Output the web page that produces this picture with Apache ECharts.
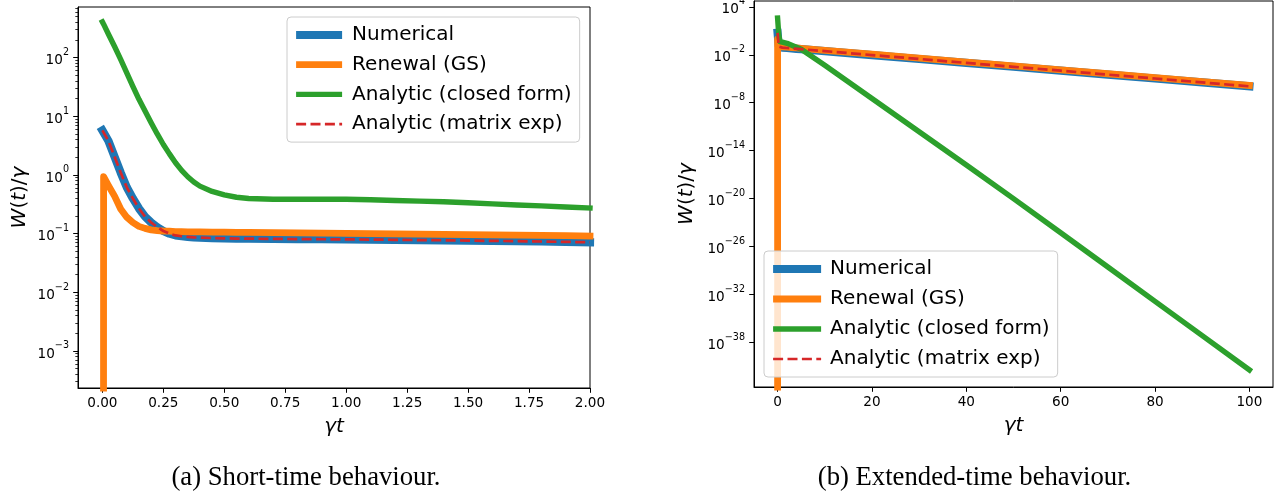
<!DOCTYPE html>
<html><head><meta charset="utf-8">
<script src="https://cdn.jsdelivr.net/npm/echarts@6/dist/echarts.min.js"></script>
<style>html,body{margin:0;padding:0;background:#fff;}#c{width:1287px;height:491px;}</style>
</head><body><div id="c"></div>
<script>
// ---------- data: short-time panel (a) ----------
const tShort = [0, 0.005, 0.025, 0.05, 0.075, 0.1, 0.125, 0.15, 0.175, 0.2, 0.225, 0.25, 0.275, 0.3, 0.325, 0.35, 0.375, 0.4, 0.45, 0.5, 0.55, 0.6, 0.7, 0.8, 0.9, 1.0, 1.1, 1.2, 1.3, 1.4, 1.5, 1.6, 1.7, 1.8, 1.9, 2.0];
const numericalShort = [5.75, 5.37, 3.80, 2.04, 1.10, 0.617, 0.398, 0.269, 0.195, 0.155, 0.129, 0.111, 0.100, 0.0933, 0.0902, 0.0881, 0.0865, 0.0855, 0.0841, 0.0832, 0.0826, 0.0822, 0.0815, 0.0809, 0.0803, 0.0798, 0.0793, 0.0785, 0.0778, 0.0771, 0.0762, 0.0753, 0.0745, 0.0735, 0.0724, 0.0713];
const renewalShort = [1e-60, 0.933, 0.661, 0.437, 0.263, 0.191, 0.155, 0.133, 0.123, 0.116, 0.113, 0.111, 0.110, 0.108, 0.108, 0.1076, 0.1074, 0.1072, 0.1064, 0.106, 0.1054, 0.1050, 0.104, 0.103, 0.102, 0.1012, 0.1002, 0.0993, 0.0984, 0.0975, 0.0964, 0.0955, 0.0944, 0.0933, 0.0923, 0.0912];
const closedShort = [407, 372, 251, 155, 93.3, 55.0, 32.4, 19.5, 12.3, 7.76, 5.01, 3.31, 2.29, 1.62, 1.20, 0.933, 0.759, 0.646, 0.525, 0.457, 0.417, 0.398, 0.386, 0.385, 0.385, 0.385, 0.378, 0.367, 0.359, 0.349, 0.337, 0.322, 0.308, 0.297, 0.285, 0.274];
const matrixShort = [5.75, 5.37, 3.80, 2.04, 1.10, 0.617, 0.398, 0.269, 0.195, 0.155, 0.129, 0.111, 0.100, 0.0933, 0.0902, 0.0881, 0.0865, 0.0855, 0.0841, 0.0832, 0.0826, 0.0822, 0.0815, 0.0809, 0.0803, 0.0798, 0.0793, 0.0785, 0.0778, 0.0771, 0.0762, 0.0753, 0.0745, 0.0735, 0.0724, 0.0713];

// ---------- data: extended-time panel (b) ----------
const tLong = [0, 0.005, 0.25, 0.5, 1, 2, 3, 4, 5, 10, 20, 30, 40, 50, 60, 70, 80, 90, 100];
const numericalLong = [5.75, 5.37, 0.111, 0.0832, 0.0798, 0.0713, 0.0637, 0.0569, 0.0508, 0.0289, 9.35e-3, 3.03e-3, 9.79e-4, 3.17e-4, 1.03e-4, 3.32e-5, 1.07e-5, 3.48e-6, 1.12e-6];
const renewalLong = [1e-60, 0.933, 0.111, 0.106, 0.1012, 0.0912, 0.0815, 0.0728, 0.0650, 0.0370, 0.01197, 3.87e-3, 1.25e-3, 4.06e-4, 1.31e-4, 4.25e-5, 1.37e-5, 4.45e-6, 1.44e-6];
const closedLong = [407, 372, 3.31, 0.457, 0.385, 0.274, 0.158, 0.0912, 0.0513, 4.9e-4, 3.3e-8, 2.24e-12, 1.55e-16, 9.3e-21, 5.0e-25, 2.5e-29, 1.26e-33, 6.3e-38, 3.16e-42];
const matrixLong = [5.75, 5.37, 0.111, 0.0832, 0.0798, 0.0713, 0.0637, 0.0569, 0.0508, 0.0289, 9.35e-3, 3.03e-3, 9.79e-4, 3.17e-4, 1.03e-4, 3.32e-5, 1.07e-5, 3.48e-6, 1.12e-6];

// ---------- ticks / labels ----------
const xTicksShort = [0, 0.25, 0.5, 0.75, 1.0, 1.25, 1.5, 1.75, 2.0];
const xTicksLong = [0, 20, 40, 60, 80, 100];
const yTicksShort = [1e-3, 1e-2, 1e-1, 1, 10, 100];
const yTicksLong = [1e4, 1e-2, 1e-8, 1e-14, 1e-20, 1e-26, 1e-32, 1e-38];
const seriesNames = ['Numerical', 'Renewal (GS)', 'Analytic (closed form)', 'Analytic (matrix exp)'];
const captions = ['(a) Short-time behaviour.', '(b) Extended-time behaviour.'];
const xName = 'γt';

// ---------- styling ----------
const FONT = 'DejaVu Sans';
const colors = ['#1f77b4', '#ff7f0e', '#2ca02c', '#d62728'];
const widths = [8.2, 6.8, 5.4, 2.7];
const yMinorShort = [];
for (let k = -4; k <= 2; k++) for (let m = 2; m <= 9; m++) {
  const v = m * Math.pow(10, k);
  if (v > 2.34e-4 && v < 730) yMinorShort.push(v);
}
function supLabel(v) {
  const e = Math.round(Math.log10(v));
  return '{b|10}{s|' + (e < 0 ? '\u2212' + (-e) : String(e)) + '}';
}
const labRich = {
  b: { fontSize: 13.6, fontFamily: FONT, color: '#000', lineHeight: 20, verticalAlign: 'bottom' },
  s: { fontSize: 9.6, fontFamily: FONT, color: '#000', lineHeight: 8, verticalAlign: 'top' }
};
const nameRich = {
  i: { fontSize: 20, fontFamily: FONT, fontStyle: 'italic', color: '#000' },
  u: { fontSize: 20, fontFamily: FONT, color: '#000' }
};
const axLine = { show: true, onZero: false, lineStyle: { color: '#000', width: 1 } };
const tickStyle = { color: '#000', width: 1 };

function xAx(grid, min, max, ticks, fmt) {
  return {
    type: 'value', gridIndex: grid, min: min, max: max,
    axisLine: axLine,
    axisTick: { show: true, length: 4.8, lineStyle: tickStyle, customValues: ticks },
    axisLabel: { customValues: ticks, formatter: fmt, margin: 8, fontSize: 13.6, fontFamily: FONT, color: '#000' },
    splitLine: { show: false },
    name: xName, nameLocation: 'middle', nameGap: 29,
    nameTextStyle: { fontSize: 20, fontFamily: FONT, fontStyle: 'italic', color: '#000' }
  };
}
function yAx(grid, min, max, ticks, gap) {
  return {
    type: 'log', logBase: 10, gridIndex: grid, min: min, max: max, position: 'left', offset: 0,
    axisLine: axLine,
    axisTick: { show: true, length: 4.8, lineStyle: tickStyle, customValues: ticks },
    axisLabel: { customValues: ticks, formatter: supLabel, margin: 9, rich: labRich },
    splitLine: { show: false }, minorTick: { show: false },
    name: '{i|W}{u|(}{i|t}{u|)/}{i|γ}', nameLocation: 'middle', nameRotate: 90, nameGap: gap,
    nameTextStyle: { fontSize: 20, fontFamily: FONT, color: '#000', rich: nameRich }
  };
}
function mk(name, idx, xi, yi, ts, vals) {
  return {
    type: 'line', name: name, xAxisIndex: xi, yAxisIndex: yi,
    data: ts.map((t, i) => [t, vals[i]]),
    symbol: 'none', showSymbol: false, clip: true, smooth: false,
    lineStyle: { color: colors[idx], width: widths[idx], type: idx === 3 ? [10, 4.4] : 'solid', cap: idx === 3 ? 'butt' : 'square', join: 'round' },
    itemStyle: { color: colors[idx] },
    emphasis: { disabled: true }, z: 2
  };
}
function legend(left, top, pad, textPad, itemW, gap) {
  return {
    orient: 'vertical', left: left, top: top, padding: pad, itemGap: gap,
    itemWidth: itemW, itemHeight: 20, selectedMode: false,
    backgroundColor: 'rgba(255,255,255,0.8)', borderColor: '#cccccc', borderWidth: 1, borderRadius: 4,
    textStyle: { fontSize: 20, fontFamily: FONT, color: '#000', padding: [0, 0, 0, textPad] },
    data: seriesNames.map((n, i) => ({
      name: n,
      lineStyle: { color: colors[i], width: widths[i], type: i === 3 ? [10, 4.4] : 'solid', cap: 'butt' },
      itemStyle: { color: 'rgba(0,0,0,0)', borderWidth: 0, borderColor: 'rgba(0,0,0,0)', opacity: 0 }
    }))
  };
}

const seriesData = [
  [numericalShort, renewalShort, closedShort, matrixShort],
  [numericalLong, renewalLong, closedLong, matrixLong]
];
const series = [];
seriesNames.forEach((n, i) => series.push(mk(n, i, 0, 0, tShort, seriesData[0][i])));
seriesNames.forEach((n, i) => series.push(mk(n, i, 1, 2, tLong, seriesData[1][i])));

const option = {
  animation: false,
  backgroundColor: '#ffffff',
  grid: [
    { left: 78, top: 7, width: 512, height: 381, show: true, borderColor: '#000', borderWidth: 1, backgroundColor: 'transparent', containLabel: false, outerBoundsMode: 'none' },
    { left: 754, top: 1, width: 519, height: 386, show: true, borderColor: '#000', borderWidth: 1, backgroundColor: 'transparent', containLabel: false, outerBoundsMode: 'none' }
  ],
  xAxis: [
    xAx(0, -0.1, 2.0, xTicksShort, v => v.toFixed(2)),
    xAx(1, -5, 105, xTicksLong, v => String(Math.round(v)))
  ],
  yAxis: [
    yAx(0, 2.34e-4, 730, yTicksShort, 48),
    {
      type: 'log', logBase: 10, gridIndex: 0, min: 2.34e-4, max: 730, position: 'left', offset: 0,
      axisLine: { show: false, onZero: false },
      axisTick: { show: true, length: 2.7, lineStyle: { color: '#000', width: 0.8 }, customValues: yMinorShort },
      axisLabel: { show: false }, splitLine: { show: false }
    },
    yAx(1, 2.29e-44, 5.6e4, yTicksLong, 57)
  ],
  legend: [
    legend(287, 17, [8, 8, 8, 5], 5, 46, 9.7),
    legend(764, 251, [8, 8, 8, 5], 4, 48, 10)
  ],
  graphic: [
    { type: 'text', x: 306, y: 478, style: { text: captions[0], fontSize: 26.7, fontFamily: 'Liberation Serif', fill: '#000', textAlign: 'center', textVerticalAlign: 'middle' } },
    { type: 'text', x: 974.5, y: 478, style: { text: captions[1], fontSize: 26.7, fontFamily: 'Liberation Serif', fill: '#000', textAlign: 'center', textVerticalAlign: 'middle' } }
  ],
  series: series
};
const chart = echarts.init(document.getElementById('c'), null, { renderer: 'canvas' });
chart.setOption(option);
</script></body></html>
